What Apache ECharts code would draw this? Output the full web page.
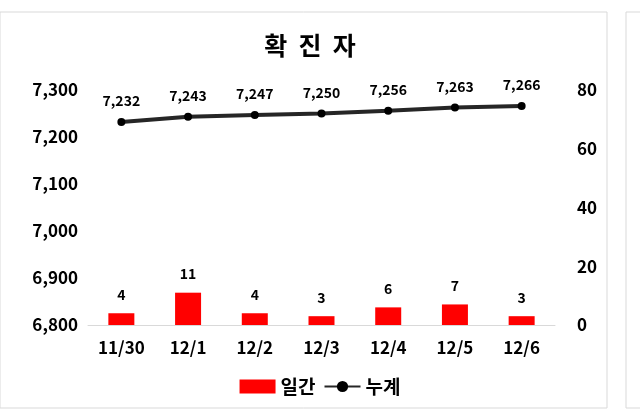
<!DOCTYPE html>
<html>
<head>
<meta charset="utf-8">
<script src="https://cdn.jsdelivr.net/npm/echarts@6/dist/echarts.min.js"></script>
<style>html,body{margin:0;background:#fff}#chart{width:640px;height:409px}</style>
</head>
<body>
<div id="chart"></div>
<script>
// 일자별 확진자
const dates = ['11/30', '12/1', '12/2', '12/3', '12/4', '12/5', '12/6'];
const daily = [4, 11, 4, 3, 6, 7, 3];
const cumulative = [7232, 7243, 7247, 7250, 7256, 7263, 7266];

const font = '"Noto Sans CJK KR", "Noto Sans", sans-serif';
const chart = echarts.init(document.getElementById('chart'));
chart.setOption({
  animation: false,
  textStyle: { fontFamily: font },
  graphic: [
    { type: 'rect', shape: { x: 0, y: 12, width: 607, height: 396 }, style: { fill: 'none', stroke: '#d9d9d9', lineWidth: 1 } },
    { type: 'rect', shape: { x: 626, y: 12, width: 20, height: 396 }, style: { fill: 'none', stroke: '#d9d9d9', lineWidth: 1 } }
  ],
  title: {
    text: '확  진  자', left: 305, top: 28, textAlign: 'center',
    textStyle: { fontSize: 25, fontWeight: 'bold', color: '#000', fontFamily: font }
  },
  legend: {
    bottom: 8, left: 'center', itemGap: 8, itemWidth: 36, itemHeight: 14,
    textStyle: { fontSize: 19, fontWeight: 'bold', color: '#000', fontFamily: font },
    data: [
      { name: '일간', icon: 'rect' },
      { name: '누계' }
    ]
  },
  grid: { left: 88, right: 85, top: 90, bottom: 84 },
  xAxis: {
    type: 'category', data: dates,
    axisLine: { lineStyle: { color: '#d9d9d9' } },
    axisTick: { show: false },
    axisLabel: { fontSize: 17, fontWeight: 'bold', color: '#000', margin: 14 }
  },
  yAxis: [
    {
      type: 'value', min: 6800, max: 7300, interval: 100,
      splitLine: { show: false }, axisLine: { show: false }, axisTick: { show: false },
      axisLabel: { fontSize: 17, fontWeight: 'bold', color: '#000', margin: 10,
        formatter: v => v.toLocaleString('en-US') }
    },
    {
      type: 'value', min: 0, max: 80, interval: 20,
      splitLine: { show: false }, axisLine: { show: false }, axisTick: { show: false },
      axisLabel: { fontSize: 17, fontWeight: 'bold', color: '#000', margin: 22 }
    }
  ],
  series: [
    {
      name: '일간', type: 'bar', yAxisIndex: 1, data: daily, barWidth: 26,
      itemStyle: { color: '#ff0000' },
      label: { show: true, position: 'top', distance: 12, fontSize: 14, fontWeight: 'bold', color: '#000' }
    },
    {
      name: '누계', type: 'line', yAxisIndex: 0, data: cumulative,
      symbol: 'circle', symbolSize: 8,
      lineStyle: { color: '#262626', width: 4 },
      itemStyle: { color: '#000' },
      label: { show: true, position: 'top', distance: 10, fontSize: 14, fontWeight: 'bold', color: '#000',
        formatter: p => p.value.toLocaleString('en-US') }
    }
  ]
});
</script>
</body>
</html>
